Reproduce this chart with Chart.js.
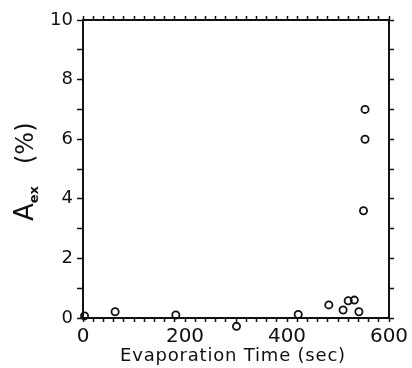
<!DOCTYPE html>
<html>
<head>
<meta charset="utf-8">
<script src="https://cdn.jsdelivr.net/npm/chart.js@4.4.0/dist/chart.umd.min.js"></script>
<style>
  html, body { margin: 0; padding: 0; background: #fff; }
  #chart { display: block; }
</style>
</head>
<body>
<canvas id="chart" width="412" height="368"></canvas>
<script>
// evaporation time (sec) vs excess absorbance A_ex (%)
const evapTime = [3, 63, 182, 301, 422, 482, 510, 520, 532, 541, 550, 553, 553];
const aex = [0.07, 0.21, 0.10, -0.28, 0.12, 0.44, 0.27, 0.58, 0.60, 0.21, 3.6, 6.0, 7.0];
const xTickLabels = [0, 200, 400, 600];
const yTickLabels = [0, 2, 4, 6, 8, 10];

const INK = '#111';

// fixed box sizes so the plot area lands where the reference has it
const fixW = w => s => { s.width = w; };
const fixH = h => s => { s.height = h; };

// chart.js skips points outside the chart area, the one below zero still has to show
const strayPoints = {
    id: 'strayPoints',
    afterDatasetsDraw(chart) {
        const a = chart.chartArea;
        const whole = { left: 0, top: 0, right: chart.width, bottom: chart.height };
        chart.getDatasetMeta(0).data.forEach(pt => {
            if (pt.y > a.bottom || pt.y < a.top) pt.draw(chart.ctx, whole);
        });
    }
};

const axisTitles = {
    id: 'axisTitles',
    afterDraw(chart) {
        const ctx = chart.ctx;
        const area = chart.chartArea;
        ctx.save();
        ctx.fillStyle = INK;

        // x title
        ctx.font = '18px "DejaVu Sans"';
        ctx.textAlign = 'center';
        ctx.textBaseline = 'alphabetic';
        ctx.letterSpacing = '0.8px';
        ctx.fillText('Evaporation Time (sec)', (area.left + area.right) / 2 - 3, 361);
        ctx.letterSpacing = '0px';

        // y title: A with subscript ex, then (%)
        ctx.translate(33, 221);
        ctx.rotate(-Math.PI / 2);
        ctx.textAlign = 'left';
        ctx.font = '26px "DejaVu Sans"';
        ctx.fillText('A', 0, 0);
        let x = ctx.measureText('A').width;
        ctx.font = 'bold 13px "DejaVu Sans"';
        ctx.fillText('ex', x, 5);
        x += ctx.measureText('ex').width + 22;
        ctx.font = '24px "DejaVu Sans"';
        ctx.fillText('(%)', x, 0);
        ctx.restore();
    }
};

const edge = { display: true, color: INK, width: 2 };

new Chart(document.getElementById('chart'), {
    type: 'scatter',
    data: {
        datasets: [{
            data: evapTime.map((t, i) => ({ x: t, y: aex[i] })),
            pointStyle: 'circle',
            pointRadius: 3.6,
            pointBorderWidth: 1.8,
            borderColor: INK,
            backgroundColor: 'rgba(0,0,0,0)',
            showLine: false,
            clip: false
        }]
    },
    options: {
        responsive: false,
        devicePixelRatio: 1,
        animation: false,
        layout: { padding: 0 },
        plugins: { legend: { display: false }, tooltip: { enabled: false } },
        scales: {
            x: {
                type: 'linear', position: 'bottom', min: 0, max: 600,
                afterFit: fixH(50),
                border: edge,
                grid: { drawOnChartArea: false, tickLength: 4, color: INK, tickColor: INK, tickWidth: 1.5 },
                ticks: {
                    stepSize: 20, autoSkip: false, maxRotation: 0, padding: 3,
                    color: INK, font: { family: 'DejaVu Sans', size: 20 },
                    callback: v => xTickLabels.includes(v) ? String(v) : ''
                }
            },
            xTop: {
                type: 'linear', position: 'top', min: 0, max: 600,
                afterFit: fixH(20),
                border: edge,
                grid: { drawOnChartArea: false, tickLength: 4, tickColor: INK, tickWidth: 1.5 },
                ticks: { stepSize: 20, autoSkip: false, display: false }
            },
            y: {
                type: 'linear', position: 'left', min: 0, max: 10,
                afterFit: fixW(83),
                border: edge,
                grid: { drawOnChartArea: false, tickLength: 6, tickColor: INK, tickWidth: 1.5 },
                ticks: {
                    stepSize: 1, autoSkip: false, padding: 4,
                    color: INK, font: { family: 'DejaVu Sans', size: 18 },
                    callback: v => yTickLabels.includes(v) ? String(v) : ''
                }
            },
            yRight: {
                type: 'linear', position: 'right', min: 0, max: 10,
                afterFit: fixW(23),
                border: edge,
                grid: { drawOnChartArea: false, tickLength: 5, tickColor: INK, tickWidth: 1.5 },
                ticks: { stepSize: 1, autoSkip: false, display: false }
            }
        }
    },
    plugins: [strayPoints, axisTitles]
});
</script>
</body>
</html>
